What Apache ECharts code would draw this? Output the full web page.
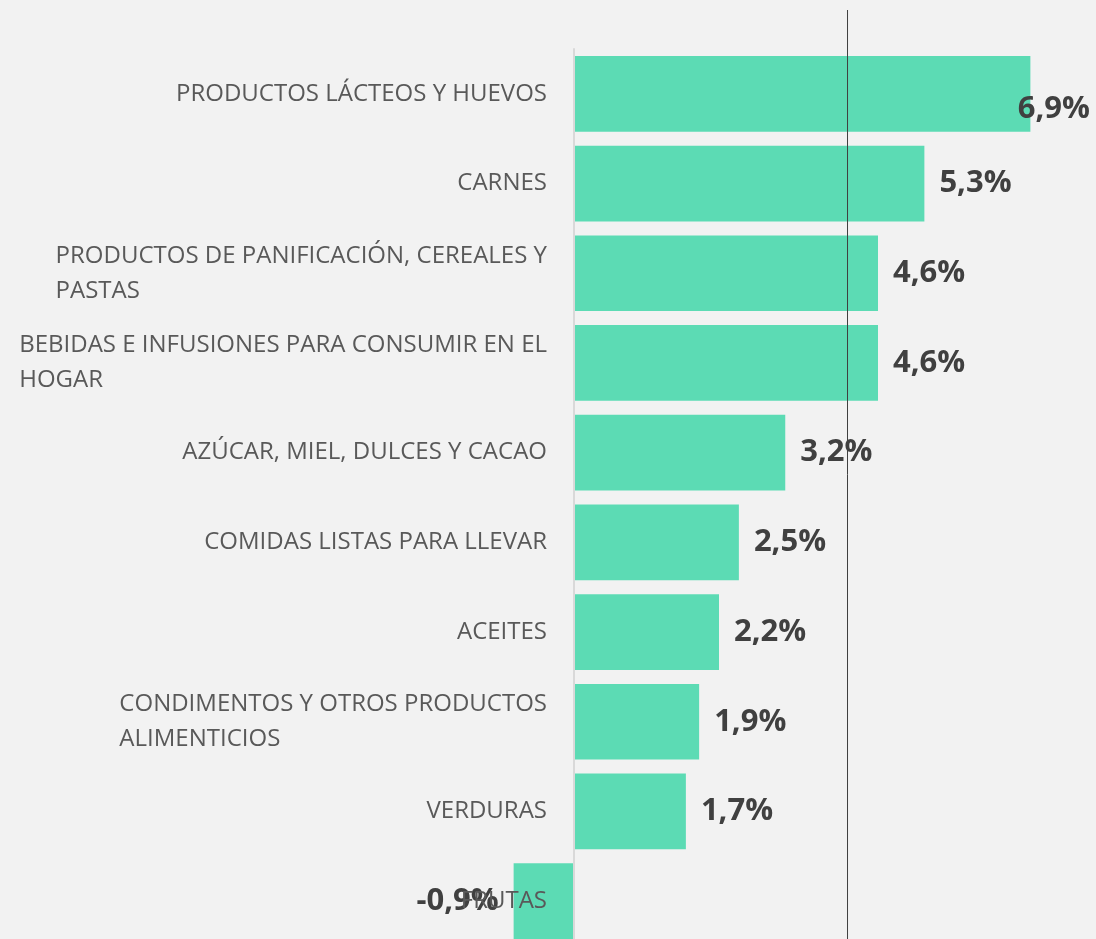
<!DOCTYPE html>
<html>
<head>
<meta charset="utf-8">
<script src="https://cdn.jsdelivr.net/npm/echarts@6/dist/echarts.min.js"></script>
<style>
html,body{margin:0;padding:0;background:#f2f2f2;}
#chart{width:1096px;height:939px;}
</style>
</head>
<body>
<div id="chart"></div>
<script>
const categories = [
  'PRODUCTOS LÁCTEOS Y HUEVOS',
  'CARNES',
  'PRODUCTOS DE PANIFICACIÓN, CEREALES Y\nPASTAS',
  'BEBIDAS E INFUSIONES PARA CONSUMIR EN EL\nHOGAR',
  'AZÚCAR, MIEL, DULCES Y CACAO',
  'COMIDAS LISTAS PARA LLEVAR',
  'ACEITES',
  'CONDIMENTOS Y OTROS PRODUCTOS\nALIMENTICIOS',
  'VERDURAS',
  'FRUTAS'
];
const values = [6.9, 5.3, 4.6, 4.6, 3.2, 2.5, 2.2, 1.9, 1.7, -0.9];
const referenceValue = 4.14;
const referenceLine = [[referenceValue, 0], [referenceValue, 1]];

const chart = echarts.init(document.getElementById('chart'));
const FONT = '"Open Sans", sans-serif';
const xMin = -1, xMax = 7;
const gridLeft = 507, gridRight = 59;

chart.setOption({
  backgroundColor: '#f2f2f2',
  animation: false,
  grid: [
    {left: gridLeft, right: gridRight, top: 49, height: 897, outerBoundsMode: 'none'},
    {left: gridLeft, right: gridRight, top: 10, bottom: 0, outerBoundsMode: 'none'}
  ],
  xAxis: [
    {type: 'value', gridIndex: 0, min: xMin, max: xMax,
     axisLine: {show: false}, axisTick: {show: false}, axisLabel: {show: false}, splitLine: {show: false}},
    {type: 'value', gridIndex: 1, min: xMin, max: xMax, show: false}
  ],
  yAxis: [
    {type: 'category', gridIndex: 0, data: categories, inverse: true, z: 3,
     axisLine: {show: true, onZero: true, lineStyle: {color: '#d9d9d9', width: 2}},
     axisTick: {show: false},
     axisLabel: {
       margin: -40,
       color: '#595959',
       fontFamily: FONT,
       fontSize: 24,
       formatter: function (v) {
         return v.split('\n').map(function (l) { return '{a|' + l + '}'; }).join('\n');
       },
       rich: {a: {color: '#595959', fontFamily: FONT, fontSize: 24, lineHeight: 35, align: 'left'}}
     }
    },
    {type: 'value', gridIndex: 1, min: 0, max: 1, show: false}
  ],
  series: [
    {
      type: 'bar',
      xAxisIndex: 0, yAxisIndex: 0,
      data: values.map(function (v) {
        return v < 0 ? {value: v, label: {position: 'left'}} : v;
      }),
      barCategoryGap: '15.6%',
      itemStyle: {color: '#5cdbb4'},
      label: {
        show: true,
        position: 'right',
        distance: 15,
        color: '#404040',
        fontFamily: FONT,
        fontWeight: 'bold',
        fontSize: 31,
        formatter: function (p) {
          return p.value.toFixed(1).replace('.', ',') + '%';
        }
      },
      labelLayout: function (p) {
        const W = chart.getWidth();
        const r = p.labelRect;
        if (r.x + r.width > W - 6) {
          return {x: W - 6 - r.width};
        }
        return {};
      }
    },
    {
      type: 'line',
      xAxisIndex: 1, yAxisIndex: 1,
      data: referenceLine,
      symbol: 'none',
      silent: true,
      z: 5,
      lineStyle: {color: '#404040', width: 1}
    }
  ]
});
</script>
</body>
</html>
